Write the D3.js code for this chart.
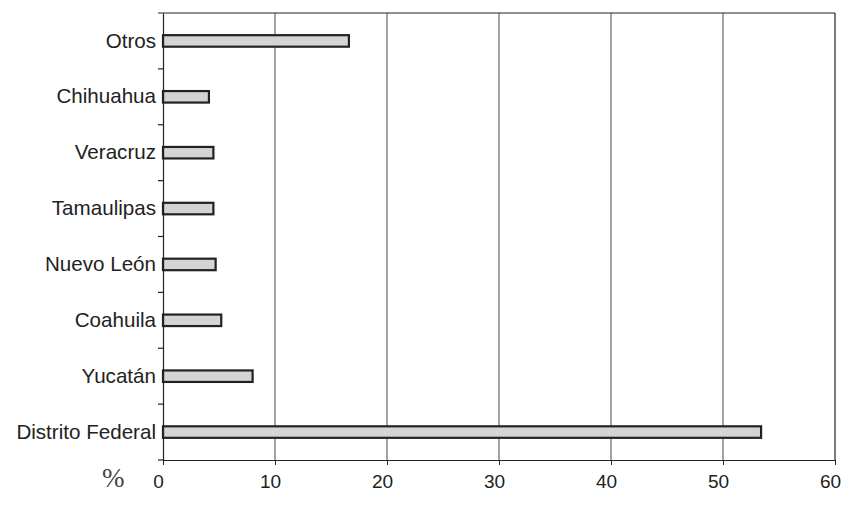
<!DOCTYPE html>
<html><head><meta charset="utf-8">
<script src="https://cdn.jsdelivr.net/npm/d3@7"></script>
<style>body{margin:0;background:#fff}svg{display:block}</style>
</head><body>
<script>
const categories = ["Otros","Chihuahua","Veracruz","Tamaulipas","Nuevo León","Coahuila","Yucatán","Distrito Federal"];
const values = [16.6, 4.1, 4.5, 4.5, 4.7, 5.2, 8.0, 53.4];
const xTicks = [0,10,20,30,40,50,60];

const W=863,H=506, L=163, R=835, T=13, B=460;
const svg=d3.select("body").append("svg").attr("width",W).attr("height",H);
const x=d3.scaleLinear().domain([0,60]).range([L,R]);
const y=d3.scaleBand().domain(categories).range([T,B]);

// gridlines
svg.append("g").selectAll("line").data(xTicks.slice(1,-1)).join("line")
  .attr("x1",d=>x(d)).attr("x2",d=>x(d)).attr("y1",T).attr("y2",B)
  .attr("stroke","#666").attr("stroke-width",1.2);
// frame top/right
svg.append("line").attr("x1",L-5).attr("x2",R).attr("y1",T).attr("y2",T).attr("stroke","#222").attr("stroke-width",1.2);
svg.append("line").attr("x1",R).attr("x2",R).attr("y1",T).attr("y2",B).attr("stroke","#222").attr("stroke-width",1.2);

// bars
const bh=11.5;
svg.append("g").selectAll("rect").data(categories).join("rect")
  .attr("x",x(0)).attr("y",(d)=>y(d)+y.bandwidth()/2-bh/2)
  .attr("width",(d,i)=>x(values[i])-x(0)).attr("height",bh)
  .attr("fill","#d4d4d4").attr("stroke","#222").attr("stroke-width",2.2);

// x axis
const xa=svg.append("g").attr("transform",`translate(0,${B})`)
  .call(d3.axisBottom(x).tickValues(xTicks).tickSize(5).tickPadding(6).tickSizeOuter(0));
xa.select(".domain").attr("stroke","#222").attr("stroke-width",1.2);
xa.selectAll(".tick line").attr("stroke","#222");
xa.selectAll("text").attr("font-family","Liberation Sans, Arial, sans-serif").attr("font-size",19).attr("fill","#222")
  .attr("dx",-5).attr("dy","0.9em");

// y axis: ticks at band boundaries
const ya=svg.append("g").attr("transform",`translate(${L},0)`)
  .call(d3.axisLeft(y).tickSize(0).tickPadding(7));
ya.select(".domain").attr("stroke","#222").attr("stroke-width",1.2);
ya.selectAll("text").attr("font-family","Liberation Sans, Arial, sans-serif").attr("font-size",20.6).attr("fill","#222");
const bounds=categories.map(c=>y(c)).slice(1).concat([B]);
svg.append("g").selectAll("line").data(bounds).join("line")
  .attr("x1",L-5).attr("x2",L).attr("y1",d=>d).attr("y2",d=>d).attr("stroke","#222").attr("stroke-width",1.2);

svg.append("text").attr("x",102).attr("y",487).text("%")
  .attr("font-family","Liberation Serif, Times New Roman, serif").attr("font-size",27).attr("fill","#444");
</script>
</body></html>
